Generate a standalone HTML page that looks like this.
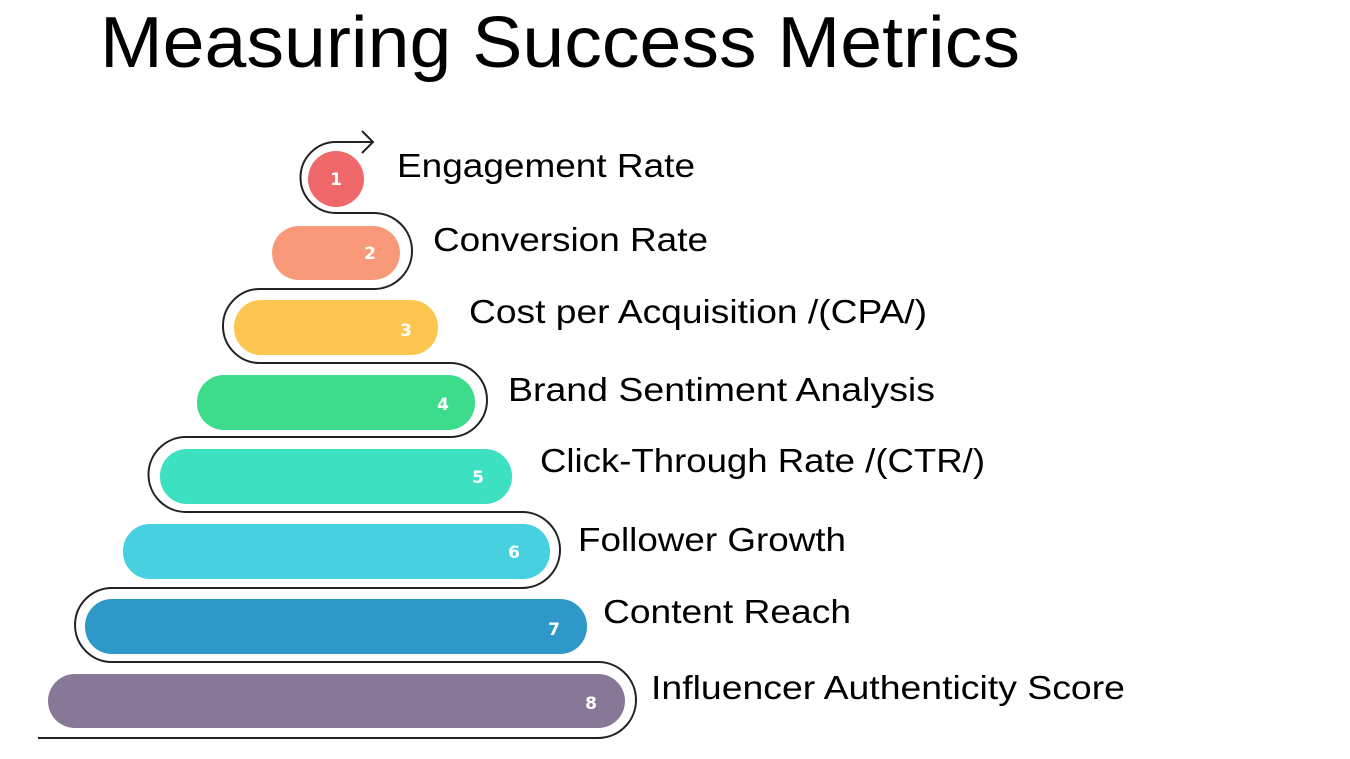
<!DOCTYPE html>
<html><head><meta charset="utf-8"><style>
body{margin:0;width:1350px;height:759px;background:#fff;overflow:hidden;font-family:"Liberation Sans",sans-serif}
</style></head><body>
<svg width="1350" height="759" xmlns="http://www.w3.org/2000/svg" style="position:absolute;left:0;top:0">
<text x="100" y="67" font-size="72" textLength="920" lengthAdjust="spacingAndGlyphs" font-family="Liberation Sans, sans-serif" fill="#000">Measuring Success Metrics</text>
<g fill="none" stroke="#222" stroke-width="2">
<path d="M372,142 L336,142 A35,35 0 0 0 336,213 L374,213 A38,38 0 0 1 374,289 L260,289 A37,37 0 0 0 260,363 L450,363 A37,37 0 0 1 450,437 L186,437 A37,37 0 0 0 186,512 L522,512 A38,38 0 0 1 522,588 L112,588 A37,37 0 0 0 112,662 L598,662 A38,38 0 0 1 598,738 L38,738"/>
<path d="M362,131 L373,142 L362,153"/>
</g>
<g font-family="DejaVu Sans, sans-serif" font-weight="bold" font-size="17" fill="#fff" text-anchor="middle">
<circle cx="336" cy="179" r="28" fill="#f0696a"/><text x="336" y="185">1</text>
<rect x="272" y="226" width="128" height="54" rx="27" fill="#f89a7a"/><text x="370" y="259">2</text>
<rect x="234" y="300" width="204" height="55" rx="27" fill="#fdc650"/><text x="406" y="336">3</text>
<rect x="197" y="375" width="278" height="55" rx="27" fill="#3ddc8c"/><text x="443" y="410">4</text>
<rect x="160" y="449" width="352" height="55" rx="27" fill="#3ee0c2"/><text x="478" y="483">5</text>
<rect x="123" y="524" width="427" height="55" rx="27" fill="#47d1e0"/><text x="514" y="558">6</text>
<rect x="85" y="599" width="502" height="55" rx="27" fill="#2e98c8"/><text x="554" y="635">7</text>
<rect x="48" y="674" width="577" height="54" rx="27" fill="#877897"/><text x="591" y="709">8</text>
</g>
<g font-size="33" font-family="Liberation Sans, sans-serif" fill="#000" lengthAdjust="spacingAndGlyphs">
<text x="397" y="177" textLength="298" lengthAdjust="spacingAndGlyphs">Engagement Rate</text>
<text x="433" y="251" textLength="275" lengthAdjust="spacingAndGlyphs">Conversion Rate</text>
<text x="469" y="323" textLength="458" lengthAdjust="spacingAndGlyphs">Cost per Acquisition /(CPA/)</text>
<text x="508" y="401" textLength="427" lengthAdjust="spacingAndGlyphs">Brand Sentiment Analysis</text>
<text x="540" y="472" textLength="445" lengthAdjust="spacingAndGlyphs">Click-Through Rate /(CTR/)</text>
<text x="578" y="551" textLength="268" lengthAdjust="spacingAndGlyphs">Follower Growth</text>
<text x="603" y="623" textLength="248" lengthAdjust="spacingAndGlyphs">Content Reach</text>
<text x="651" y="699" textLength="474" lengthAdjust="spacingAndGlyphs">Influencer Authenticity Score</text>
</g>
</svg>
</body></html>
